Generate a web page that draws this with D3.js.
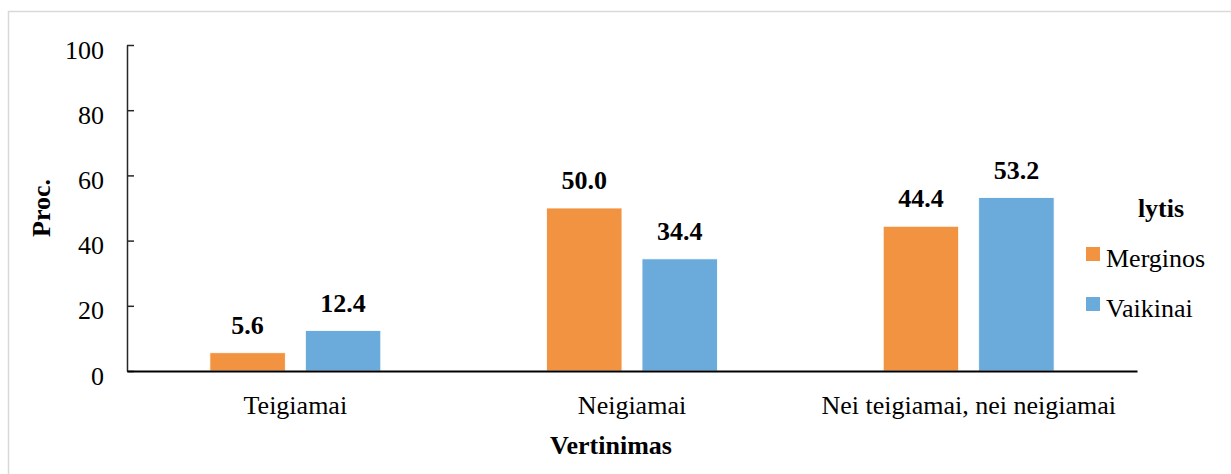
<!DOCTYPE html>
<html>
<head>
<meta charset="utf-8">
<script src="https://cdn.jsdelivr.net/npm/d3@7"></script>
</head>
<body style="margin:0;background:#fff">
<svg id="chart" width="1231" height="474"></svg>
<script>
const categories = ["Teigiamai", "Neigiamai", "Nei teigiamai, nei neigiamai"];
const seriesNames = ["Merginos", "Vaikinai"];
const merginos = [5.6, 50.0, 44.4];
const vaikinai = [12.4, 34.4, 53.2];
const yTicks = [0, 20, 40, 60, 80, 100];
const colors = ["#F29342", "#6AABDC"];

const FONT = '"Liberation Serif"';
const seriesValues = [merginos, vaikinai];
const svg = d3.select("#chart");

// outer border
svg.append("rect")
  .attr("x", 8.5).attr("y", 11.5)
  .attr("width", 1240).attr("height", 480)
  .attr("fill", "#fff").attr("stroke", "#d9d9d9").attr("stroke-width", 1.5);

const plotLeft = 127, plotRight = 1137, plotTop = 45, plotBottom = 371;

const x0 = d3.scaleBand().domain(categories).range([plotLeft, plotRight]).padding(0);
const x1 = d3.scaleBand().domain(seriesNames).range([0, x0.bandwidth()])
  .paddingInner(0.21).paddingOuter(0.868);
const y = d3.scaleLinear().domain([0, 100]).range([plotBottom, plotTop]);

// bars
const groups = svg.append("g").selectAll("g")
  .data(categories).join("g")
  .attr("transform", d => `translate(${x0(d)},0)`);

groups.each(function(cat, ci) {
  const g = d3.select(this);
  seriesNames.forEach((s, si) => {
    const v = seriesValues[si][ci];
    g.append("rect")
      .attr("x", x1(s))
      .attr("y", y(v))
      .attr("width", x1.bandwidth())
      .attr("height", y(0) - y(v))
      .attr("fill", colors[si])
      .attr("stroke", "#fff")
      .attr("stroke-width", 0.8);
    g.append("text")
      .attr("x", x1(s) + x1.bandwidth() / 2)
      .attr("y", y(v) - 19)
      .attr("text-anchor", "middle")
      .style("font-family", FONT)
      .style("font-size", "26px")
      .style("font-weight", "bold")
      .attr("fill", "#000")
      .text(v.toFixed(1));
  });
});

// y axis
const yAxis = svg.append("g")
  .attr("transform", `translate(${plotLeft},0)`)
  .call(d3.axisLeft(y).tickValues(yTicks).tickSizeInner(-7).tickSizeOuter(0).tickPadding(23));
yAxis.select(".domain").attr("stroke", "#262626").attr("stroke-width", 1.5);
yAxis.selectAll(".tick line").attr("stroke", "#262626").attr("stroke-width", 1.5);
yAxis.selectAll(".tick text")
  .style("font-family", FONT)
  .style("font-size", "26px")
  .attr("fill", "#000")
  .attr("dy", "0.5em");

// x axis
const xAxis = svg.append("g")
  .attr("transform", `translate(0,${plotBottom})`)
  .call(d3.axisBottom(x0).tickSize(0).tickSizeOuter(0).tickPadding(0));
xAxis.select(".domain").attr("stroke", "#000").attr("stroke-width", 2);
xAxis.selectAll(".tick text")
  .style("font-family", FONT)
  .style("font-size", "26px")
  .attr("fill", "#000")
  .attr("y", 43).attr("dy", 0);

// axis titles
svg.append("text")
  .attr("x", 611).attr("y", 454)
  .attr("text-anchor", "middle")
  .style("font-family", FONT).style("font-size", "26px").style("font-weight", "bold")
  .text("Vertinimas");

svg.append("text")
  .attr("transform", `translate(50,${(plotTop + plotBottom) / 2}) rotate(-90)`)
  .attr("text-anchor", "middle")
  .style("font-family", FONT).style("font-size", "26px").style("font-weight", "bold")
  .text("Proc.");

// legend
svg.append("text")
  .attr("x", 1161).attr("y", 217)
  .attr("text-anchor", "middle")
  .style("font-family", FONT).style("font-size", "26px").style("font-weight", "bold")
  .text("lytis");

const legend = svg.append("g").selectAll("g")
  .data(seriesNames).join("g")
  .attr("transform", (d, i) => `translate(1086,${247 + i * 50})`);
legend.append("rect")
  .attr("width", 14).attr("height", 14)
  .attr("fill", (d, i) => colors[i]);
legend.append("text")
  .attr("x", 20).attr("y", 20)
  .style("font-family", FONT).style("font-size", "26px")
  .text(d => d);
</script>
</body>
</html>
